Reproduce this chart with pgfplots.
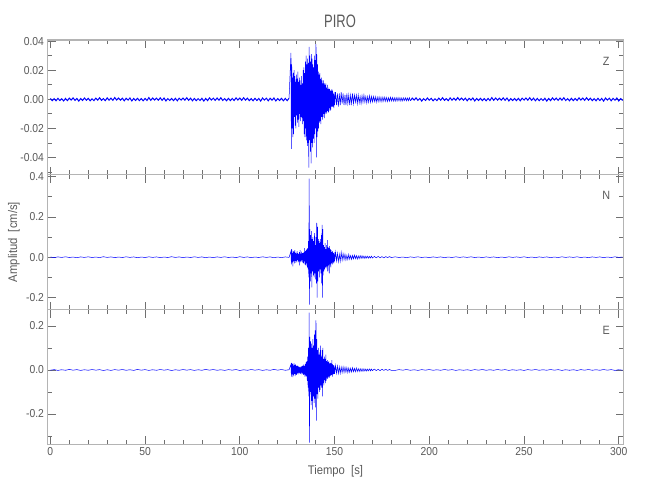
\documentclass[border=0pt]{standalone}
\usepackage{fontspec}
\setmainfont{Liberation Sans}[FakeStretch=0.9]
\newfontfamily\titlefont{Liberation Sans}[FakeStretch=0.72]
\usepackage{pgfplots}
\pgfplotsset{compat=1.18}
\definecolor{framec}{HTML}{B4B4B4}
\definecolor{tickc}{HTML}{707070}
\definecolor{txt}{HTML}{5A5A5A}
\definecolor{tracec}{RGB}{0,0,255}
\pgfplotsset{panel/.style={
  scale only axis, width=576pt, height=134.8pt, anchor=north west,
  xmin=-1.5, xmax=302.5,
  xtick={0,50,...,300}, minor x tick num=4,
  scaled y ticks=false, scaled x ticks=false,
  tick align=inside, xtick pos=both, ytick pos=both,
  xticklabel pos=left, yticklabel pos=left,
  major tick length=8pt, minor tick length=4.5pt,
  axis line style={framec, line width=1.2pt},
  every tick/.append style={tickc, line width=0.8pt},
  tick label style={font=\fontsize{11.5}{12}\selectfont, text=txt},
  /pgf/number format/assume math mode=true,
}}
\begin{document}
\begin{tikzpicture}
\path[use as bounding box] (0,0) rectangle (650pt,-500pt);
% ---------------- Z ----------------
\begin{axis}[panel, at={(47.5pt,-40pt)}, ymin=-0.0519, ymax=0.0408,
  ytick={-0.04,-0.02,0,0.02,0.04}, yticklabels={-0.04,-0.02,0.00,0.02,0.04},
  minor ytick={-0.05,-0.03,-0.01,0.01,0.03}, xticklabels={}]
\addplot[tracec, line width=1pt] coordinates {
(0,6e-4)(1,-9e-4)(2,5e-4)(3,-1e-3)(4,7e-4)(5,-8e-4)(6,4e-4)(7,-1.1e-3)(8,6e-4)(9,-9e-4)
(10,8e-4)(11,-5e-4)(12,1e-3)(13,-7e-4)(14,6e-4)(15,-1.2e-3)(16,5e-4)(17,-8e-4)(18,9e-4)(19,-6e-4)
(20,7e-4)(21,-1e-3)(22,4e-4)(23,-9e-4)(24,8e-4)(25,-6e-4)(26,1.1e-3)(27,-7e-4)(28,5e-4)(29,-9e-4)
(30,1e-3)(31,-6e-4)(32,8e-4)(33,-7e-4)(34,1.2e-3)(35,-5e-4)(36,9e-4)(37,-6e-4)(38,8e-4)(39,-1e-3)
(40,7e-4)(41,-5e-4)(42,9e-4)(43,-1.1e-3)(44,6e-4)(45,-8e-4)(46,7e-4)(47,-9e-4)(48,5e-4)(49,-1e-3)
(50,6e-4)(51,-8e-4)(52,1.2e-3)(53,-7e-4)(54,9e-4)(55,-5e-4)(56,8e-4)(57,-6e-4)(58,1e-3)(59,-7e-4)
(60,9e-4)(61,-1.1e-3)(62,5e-4)(63,-8e-4)(64,6e-4)(65,-9e-4)(66,7e-4)(67,-1e-3)(68,8e-4)(69,-5e-4)
(70,9e-4)(71,-6e-4)(72,1.1e-3)(73,-7e-4)(74,8e-4)(75,-1e-3)(76,6e-4)(77,-9e-4)(78,5e-4)(79,-8e-4)
(80,7e-4)(81,-1.2e-3)(82,6e-4)(83,-9e-4)(84,1e-3)(85,-5e-4)(86,8e-4)(87,-7e-4)(88,9e-4)(89,-6e-4)
(90,1.1e-3)(91,-8e-4)(92,5e-4)(93,-1e-3)(94,7e-4)(95,-9e-4)(96,6e-4)(97,-8e-4)(98,1e-3)(99,-5e-4)
(100,9e-4)(101,-7e-4)(102,1.1e-3)(103,-6e-4)(104,8e-4)(105,-9e-4)(106,5e-4)(107,-1e-3)(108,7e-4)(109,-8e-4)
(110,6e-4)(111,-1.2e-3)(112,9e-4)(113,-5e-4)(114,8e-4)(115,-1e-3)(116,7e-4)(117,-6e-4)(118,9e-4)(119,-1.1e-3)
(120,5e-4)(121,-8e-4)(122,7e-4)(123,-1e-3)(124,6e-4)(125,-9e-4)(126,8e-4)
};
\addplot[tracec, line width=0.5pt] coordinates {
(126,8e-4)
(127,0.032)(127.2,-0.034)(127.4,0.024)(127.6,-0.02)(127.8,0.015)(128,-0.026)(128.2,0.018)(128.4,-0.024)(128.6,0.02)(128.8,-0.012)
(129,0.016)(129.2,-0.018)(129.4,0.012)(129.6,-0.02)(129.8,0.017)(130,-0.011)(130.2,0.014)(130.4,-0.016)(130.6,0.019)(130.8,-0.014)
(131,0.012)(131.2,-0.019)(131.4,0.015)(131.6,-0.01)(131.8,0.013)(132,-0.015)(132.2,0.01)(132.4,-0.012)(132.6,0.016)(132.8,-0.013)
(133,0.011)(133.2,-0.017)(133.4,0.02)(133.6,-0.015)(133.8,0.022)(134,-0.024)(134.2,0.018)(134.4,-0.026)(134.6,0.026)(134.8,-0.02)
(135,0.03)(135.2,-0.028)(135.4,0.024)(135.6,-0.032)(135.8,0.028)(136,-0.03)(136.2,0.025)(136.4,-0.047)(136.6,0.036)(136.8,-0.028)
(137,0.03)(137.2,-0.036)(137.4,0.026)(137.6,-0.044)(137.8,0.031)(138,-0.03)(138.2,0.028)(138.4,-0.033)(138.6,0.024)(138.8,-0.027)
(139,0.022)(139.2,-0.03)(139.4,0.03)(139.6,-0.024)(139.8,0.027)(140,-0.02)(140.2,0.038)(140.4,-0.04)(140.6,0.031)(140.8,-0.026)
(141,0.024)(141.2,-0.022)(141.4,0.019)(141.6,-0.02)(141.8,0.017)(142,-0.016)(142.2,0.018)(142.4,-0.015)(142.6,0.014)(142.8,-0.017)
(143,0.015)(143.2,-0.012)(143.4,0.013)(143.6,-0.014)(143.8,0.011)(144,-0.012)(144.2,0.013)(144.4,-0.01)(144.6,0.011)(144.8,-0.013)
(145,0.01)(145.2,-0.009)(145.4,0.011)(145.6,-0.01)(145.8,0.008)(146,-0.009)(146.2,0.01)(146.4,-0.008)(146.6,0.007)(146.8,-0.009)
(147,0.008)(147.2,-0.006)(147.4,0.007)(147.6,-0.008)(147.8,0.006)(148,-0.007)(148.2,0.006)(148.4,-0.005)(148.6,0.007)(148.8,-0.005)
(149,0.006)(149.2,-0.005)(149.4,0.004)(149.6,-0.006)(149.8,0.005)(150,-0.004)
(150.5,0.005)(151,-0.004)(151.5,0.004)(152,-0.005)(152.5,0.004)(153,-0.004)(153.5,0.005)(154,-0.003)(154.5,0.004)(155,-0.004)
(155.5,0.003)(156,-0.004)(156.5,0.004)(157,-0.003)(157.5,0.003)(158,-0.004)(158.5,0.003)(159,-0.003)(159.5,0.004)(160,-0.003)
(160.5,0.003)(161,-0.002)(161.5,0.003)(162,-0.003)(162.5,0.003)(163,-0.0025)(163.5,0.002)(164,-0.003)(164.5,0.0025)(165,-0.002)
(165.5,0.003)(166,-0.002)(166.5,0.002)(167,-0.0025)(167.5,0.002)(168,-0.002)(168.5,0.0025)(169,-0.002)(169.5,0.002)(170,-0.0018)
(170.5,0.002)(171,-0.0015)(171.5,0.0018)(172,-0.002)(172.5,0.0015)(173,-0.0016)(173.5,0.0017)(174,-0.0015)(174.5,0.0014)(175,-0.0016)
(175.5,0.0015)(176,-0.0013)(176.5,0.0015)(177,-0.0014)(177.5,0.0013)(178,-0.0015)(178.5,0.0012)(179,-0.0013)(179.5,0.0014)(180,-0.0012)
(180.5,0.0013)(181,-0.0012)(181.5,0.0011)(182,-0.0013)(182.5,0.0012)(183,-0.0011)(183.5,0.0012)(184,-0.001)(184.5,0.0011)(185,-0.0012)
(185.5,0.001)(186,-0.0011)(186.5,0.001)(187,-0.0009)(187.5,0.0011)(188,-0.001)(188.5,0.0009)(189,-0.001)(189.5,0.0011)(190,-0.0009)
};
\addplot[tracec, line width=1pt] coordinates {
(190,-0.0009)
(191,8e-4)(192,-5e-4)(193,1e-3)(194,-7e-4)(195,6e-4)(196,-1.2e-3)(197,5e-4)(198,-8e-4)(199,9e-4)(200,-6e-4)
(201,7e-4)(202,-1e-3)(203,4e-4)(204,-9e-4)(205,8e-4)(206,-6e-4)(207,1.1e-3)(208,-7e-4)(209,5e-4)(210,-9e-4)
(211,1e-3)(212,-6e-4)(213,8e-4)(214,-7e-4)(215,1.2e-3)(216,-5e-4)(217,9e-4)(218,-6e-4)(219,8e-4)(220,-1e-3)
(221,7e-4)(222,-5e-4)(223,9e-4)(224,-1.1e-3)(225,6e-4)(226,-8e-4)(227,7e-4)(228,-9e-4)(229,5e-4)(230,-1e-3)
(231,6e-4)(232,-8e-4)(233,1.2e-3)(234,-7e-4)(235,9e-4)(236,-5e-4)(237,8e-4)(238,-6e-4)(239,1e-3)(240,-7e-4)
(241,9e-4)(242,-1.1e-3)(243,5e-4)(244,-8e-4)(245,6e-4)(246,-9e-4)(247,7e-4)(248,-1e-3)(249,8e-4)(250,-5e-4)
(251,9e-4)(252,-6e-4)(253,1.1e-3)(254,-7e-4)(255,8e-4)(256,-1e-3)(257,6e-4)(258,-9e-4)(259,5e-4)(260,-8e-4)
(261,7e-4)(262,-1.2e-3)(263,6e-4)(264,-9e-4)(265,1e-3)(266,-5e-4)(267,8e-4)(268,-7e-4)(269,9e-4)(270,-6e-4)
(271,1.1e-3)(272,-8e-4)(273,5e-4)(274,-1e-3)(275,7e-4)(276,-9e-4)(277,6e-4)(278,-8e-4)(279,1e-3)(280,-5e-4)
(281,9e-4)(282,-7e-4)(283,1.1e-3)(284,-6e-4)(285,8e-4)(286,-9e-4)(287,5e-4)(288,-1e-3)(289,7e-4)(290,-8e-4)
(291,6e-4)(292,-1.2e-3)(293,9e-4)(294,-5e-4)(295,8e-4)(296,-1e-3)(297,7e-4)(298,-6e-4)(299,9e-4)(300,-1.1e-3)
(301,5e-4)(302,-8e-4)
};
\node[text=txt, font=\fontsize{12}{13}\selectfont] at (rel axis cs:0.97,0.845) {Z};
\end{axis}
% ---------------- N ----------------
\begin{axis}[panel, at={(47.5pt,-174.8pt)}, ymin=-0.26, ymax=0.409,
  ytick={-0.2,0,0.2,0.4}, yticklabels={-0.2,0.0,0.2,0.4},
  minor ytick={-0.1,0.1,0.3}, xticklabels={}]
\addplot[tracec, line width=0.5pt] coordinates {
(0,1e-3)(2,-2e-3)(4,1.5e-3)(6,-1e-3)(8,2e-3)(10,-1.5e-3)(12,1e-3)(14,-2.5e-3)(16,1.5e-3)(18,-1e-3)
(20,2e-3)(22,-1.5e-3)(24,1e-3)(26,-2e-3)(28,2.5e-3)(30,-1e-3)(32,1.5e-3)(34,-2e-3)(36,1e-3)(38,-1.5e-3)
(40,2e-3)(42,-1e-3)(44,1.5e-3)(46,-2.5e-3)(48,1e-3)(50,-1.5e-3)(52,2e-3)(54,-1e-3)(56,1.5e-3)(58,-2e-3)
(60,1e-3)(62,-1.5e-3)(64,2.5e-3)(66,-1e-3)(68,1.5e-3)(70,-2e-3)(72,1e-3)(74,-1.5e-3)(76,2e-3)(78,-1e-3)
(80,1.5e-3)(82,-2.5e-3)(84,1e-3)(86,-2e-3)(88,1.5e-3)(90,-1e-3)(92,2e-3)(94,-1.5e-3)(96,1e-3)(98,-2e-3)
(100,2.5e-3)(102,-1e-3)(104,1.5e-3)(106,-2e-3)(108,1e-3)(110,-1.5e-3)(112,2e-3)(114,-1e-3)(116,1.5e-3)(118,-2.5e-3)
(120,1e-3)(122,-2e-3)(124,1.5e-3)(126,-1e-3)
(127,0.03)(127.2,-0.035)(127.4,0.04)(127.6,-0.025)(127.8,0.02)(128,-0.045)(128.2,0.03)(128.4,-0.02)(128.6,0.025)(128.8,-0.03)
(129,0.035)(129.2,-0.018)(129.4,0.022)(129.6,-0.028)(129.8,0.018)(130,-0.02)(130.2,0.03)(130.4,-0.015)(130.6,0.02)(130.8,-0.025)
(131,0.015)(131.2,-0.02)(131.4,0.025)(131.6,-0.04)(131.8,0.035)(132,-0.02)(132.2,0.018)(132.4,-0.022)(132.6,0.028)(132.8,-0.015)
(133,0.02)(133.2,-0.025)(133.4,0.02)(133.6,-0.03)(133.8,0.025)(134,-0.02)(134.2,0.045)(134.4,-0.035)(134.6,0.03)(134.8,-0.04)
(135,0.035)(135.2,-0.03)(135.4,0.04)(135.6,-0.05)(135.8,0.045)(136,-0.06)(136.2,0.08)(136.4,-0.1)(136.6,0.39)(136.8,-0.235)
(137,0.14)(137.2,-0.12)(137.4,0.11)(137.6,-0.08)(137.8,0.13)(138,-0.15)(138.2,0.09)(138.4,-0.07)(138.6,0.1)(138.8,-0.09)
(139,0.08)(139.2,-0.1)(139.4,0.12)(139.6,-0.08)(139.8,0.06)(140,-0.11)(140.2,0.1)(140.4,-0.13)(140.6,0.17)(140.8,-0.2)
(141,0.15)(141.2,-0.12)(141.4,0.09)(141.6,-0.07)(141.8,0.08)(142,-0.1)(142.2,0.07)(142.4,-0.06)(142.6,0.09)(142.8,-0.08)
(143,0.11)(143.2,-0.13)(143.4,0.16)(143.6,-0.2)(143.8,0.14)(144,-0.09)(144.2,0.06)(144.4,-0.07)(144.6,0.05)(144.8,-0.06)
(145,0.07)(145.2,-0.05)(145.4,0.04)(145.6,-0.055)(145.8,0.06)(146,-0.045)(146.2,0.085)(146.4,-0.07)(146.6,0.05)(146.8,-0.04)
(147,0.045)(147.2,-0.08)(147.4,0.055)(147.6,-0.035)(147.8,0.04)(148,-0.05)(148.2,0.035)(148.4,-0.03)(148.6,0.025)(148.8,-0.035)
(149,0.03)(149.2,-0.025)(149.4,0.02)(149.6,-0.03)(149.8,0.025)(150,-0.02)
(150.5,0.025)(151,-0.018)(151.5,0.02)(152,-0.022)(152.5,0.015)(153,-0.02)(153.5,0.025)(154,-0.015)(154.5,0.018)(155,-0.012)
(155.5,0.015)(156,-0.014)(156.5,0.01)(157,-0.012)(157.5,0.014)(158,-0.01)(158.5,0.008)(159,-0.011)(159.5,0.009)(160,-0.008)
(160.5,0.01)(161,-0.007)(161.5,0.008)(162,-0.009)(162.5,0.006)(163,-0.007)(163.5,0.008)(164,-0.006)(164.5,0.007)(165,-0.005)
(165.5,0.006)(166,-0.006)(166.5,0.005)(167,-0.004)(167.5,0.005)(168,-0.005)(168.5,0.004)(169,-0.004)(169.5,0.005)(170,-0.004)
(171,0.004)(172,-0.003)(173,0.004)(174,-0.003)(175,0.003)(176,-0.003)(177,0.003)(178,-0.002)(179,0.003)(180,-0.002)
(182,2e-3)(184,-1.5e-3)(186,1e-3)(188,-2e-3)(190,1.5e-3)(192,-1e-3)(194,2e-3)(196,-1.5e-3)(198,1e-3)(200,-2e-3)
(202,1.5e-3)(204,-1e-3)(206,1.5e-3)(208,-2e-3)(210,1e-3)(212,-1.5e-3)(214,2e-3)(216,-1e-3)(218,1.5e-3)(220,-1e-3)
(222,2e-3)(224,-1.5e-3)(226,1e-3)(228,-2e-3)(230,1.5e-3)(232,-1e-3)(234,1.5e-3)(236,-2e-3)(238,1e-3)(240,-1.5e-3)
(242,2e-3)(244,-1e-3)(246,1.5e-3)(248,-1e-3)(250,2e-3)(252,-1.5e-3)(254,1e-3)(256,-2e-3)(258,1.5e-3)(260,-1e-3)
(262,1.5e-3)(264,-2e-3)(266,1e-3)(268,-1.5e-3)(270,2e-3)(272,-1e-3)(274,1.5e-3)(276,-1e-3)(278,2e-3)(280,-1.5e-3)
(282,1e-3)(284,-2e-3)(286,1.5e-3)(288,-1e-3)(290,1.5e-3)(292,-2e-3)(294,1e-3)(296,-1.5e-3)(298,2e-3)(300,-1e-3)(302,1e-3)
};
\node[text=txt, font=\fontsize{12}{13}\selectfont] at (rel axis cs:0.97,0.845) {N};
\end{axis}
% ---------------- E ----------------
\begin{axis}[panel, at={(47.5pt,-309.6pt)}, ymin=-0.338, ymax=0.274,
  ytick={-0.2,0,0.2}, yticklabels={-0.2,0.0,0.2},
  minor ytick={-0.3,-0.1,0.1},
  xticklabels={0,50,100,150,200,250,300}]
\addplot[tracec, line width=0.5pt] coordinates {
(0,-1e-3)(2,1.5e-3)(4,-2e-3)(6,1e-3)(8,-1.5e-3)(10,2.5e-3)(12,-1e-3)(14,1.5e-3)(16,-2e-3)(18,1e-3)
(20,-1.5e-3)(22,2e-3)(24,-1e-3)(26,1.5e-3)(28,-2.5e-3)(30,1e-3)(32,-2e-3)(34,1.5e-3)(36,-1e-3)(38,2e-3)
(40,-1.5e-3)(42,1e-3)(44,-2e-3)(46,2.5e-3)(48,-1e-3)(50,1.5e-3)(52,-2e-3)(54,1e-3)(56,-1.5e-3)(58,2e-3)
(60,-1e-3)(62,1.5e-3)(64,-2.5e-3)(66,1e-3)(68,-1.5e-3)(70,2e-3)(72,-1e-3)(74,1.5e-3)(76,-2e-3)(78,1e-3)
(80,-1.5e-3)(82,2.5e-3)(84,-1e-3)(86,2e-3)(88,-1.5e-3)(90,1e-3)(92,-2e-3)(94,1.5e-3)(96,-1e-3)(98,2e-3)
(100,-2.5e-3)(102,1e-3)(104,-1.5e-3)(106,2e-3)(108,-1e-3)(110,1.5e-3)(112,-2e-3)(114,1e-3)(116,-1.5e-3)(118,2.5e-3)
(120,-1e-3)(122,2e-3)(124,-1.5e-3)(126,1e-3)
(127,0.025)(127.2,-0.03)(127.4,0.032)(127.6,-0.02)(127.8,0.028)(128,-0.032)(128.2,0.02)(128.4,-0.025)(128.6,0.03)(128.8,-0.018)
(129,0.022)(129.2,-0.028)(129.4,0.025)(129.6,-0.02)(129.8,0.018)(130,-0.022)(130.2,0.02)(130.4,-0.015)(130.6,0.018)(130.8,-0.02)
(131,0.015)(131.2,-0.012)(131.4,0.014)(131.6,-0.016)(131.8,0.012)(132,-0.018)(132.2,0.015)(132.4,-0.012)(132.6,0.016)(132.8,-0.02)
(133,0.018)(133.2,-0.015)(133.4,0.02)(133.6,-0.022)(133.8,0.025)(134,-0.02)(134.2,0.018)(134.4,-0.03)(134.6,0.028)(134.8,-0.025)
(135,0.035)(135.2,-0.03)(135.4,0.04)(135.6,-0.05)(135.8,0.06)(136,-0.08)(136.2,0.1)(136.4,-0.12)(136.6,0.26)(136.8,-0.33)
(137,0.15)(137.2,-0.1)(137.4,0.13)(137.6,-0.16)(137.8,0.12)(138,-0.14)(138.2,0.1)(138.4,-0.18)(138.6,0.14)(138.8,-0.12)
(139,0.11)(139.2,-0.15)(139.4,0.16)(139.6,-0.13)(139.8,0.18)(140,-0.17)(140.2,0.225)(140.4,-0.23)(140.6,0.14)(140.8,-0.11)
(141,0.09)(141.2,-0.13)(141.4,0.1)(141.6,-0.08)(141.8,0.07)(142,-0.1)(142.2,0.08)(142.4,-0.09)(142.6,0.11)(142.8,-0.07)
(143,0.06)(143.2,-0.08)(143.4,0.09)(143.6,-0.12)(143.8,0.1)(144,-0.06)(144.2,0.05)(144.4,-0.07)(144.6,0.06)(144.8,-0.045)
(145,0.05)(145.2,-0.06)(145.4,0.07)(145.6,-0.05)(145.8,0.04)(146,-0.035)(146.2,0.045)(146.4,-0.04)(146.6,0.035)(146.8,-0.03)
(147,0.04)(147.2,-0.035)(147.4,0.03)(147.6,-0.028)(147.8,0.032)(148,-0.025)(148.2,0.03)(148.4,-0.022)(148.6,0.045)(148.8,-0.03)
(149,0.025)(149.2,-0.02)(149.4,0.022)(149.6,-0.018)(149.8,0.02)(150,-0.018)
(150.5,0.02)(151,-0.015)(151.5,0.018)(152,-0.016)(152.5,0.014)(153,-0.015)(153.5,0.013)(154,-0.012)(154.5,0.014)(155,-0.011)
(155.5,0.012)(156,-0.01)(156.5,0.011)(157,-0.012)(157.5,0.009)(158,-0.01)(158.5,0.008)(159,-0.009)(159.5,0.01)(160,-0.008)
(160.5,0.007)(161,-0.008)(161.5,0.009)(162,-0.007)(162.5,0.006)(163,-0.007)(163.5,0.006)(164,-0.006)(164.5,0.005)(165,-0.006)
(165.5,0.005)(166,-0.005)(166.5,0.004)(167,-0.005)(167.5,0.004)(168,-0.004)(168.5,0.005)(169,-0.004)(169.5,0.004)(170,-0.003)
(171,0.004)(172,-0.003)(173,0.003)(174,-0.003)(175,0.003)(176,-0.002)(177,0.003)(178,-0.002)(179,0.002)(180,-0.002)
(182,-2e-3)(184,1.5e-3)(186,-1e-3)(188,2e-3)(190,-1.5e-3)(192,1e-3)(194,-2e-3)(196,1.5e-3)(198,-1e-3)(200,2e-3)
(202,-1.5e-3)(204,1e-3)(206,-1.5e-3)(208,2e-3)(210,-1e-3)(212,1.5e-3)(214,-2e-3)(216,1e-3)(218,-1.5e-3)(220,1e-3)
(222,-2e-3)(224,1.5e-3)(226,-1e-3)(228,2e-3)(230,-1.5e-3)(232,1e-3)(234,-1.5e-3)(236,2e-3)(238,-1e-3)(240,1.5e-3)
(242,-2e-3)(244,1e-3)(246,-1.5e-3)(248,1e-3)(250,-2e-3)(252,1.5e-3)(254,-1e-3)(256,2e-3)(258,-1.5e-3)(260,1e-3)
(262,-1.5e-3)(264,2e-3)(266,-1e-3)(268,1.5e-3)(270,-2e-3)(272,1e-3)(274,-1.5e-3)(276,1e-3)(278,-2e-3)(280,1.5e-3)
(282,-1e-3)(284,2e-3)(286,-1.5e-3)(288,1e-3)(290,-1.5e-3)(292,2e-3)(294,-1e-3)(296,1.5e-3)(298,-2e-3)(300,1e-3)(302,-1e-3)
};
\node[text=txt, font=\fontsize{12}{13}\selectfont] at (rel axis cs:0.97,0.845) {E};
\end{axis}
% ---------------- titles ----------------
\node[text=txt, font=\titlefont\fontsize{18}{20}\selectfont] at (340pt,-21pt) {PIRO};
\node[text=txt, font=\fontsize{12.5}{14}\selectfont] at (335.5pt,-471pt) {Tiempo\hspace{0.5em}[s]};
\node[text=txt, rotate=90, font=\fontsize{12.5}{14}\selectfont] at (14pt,-242pt) {Amplitud\hspace{0.5em}[cm/s]};
\end{tikzpicture}
\end{document}
